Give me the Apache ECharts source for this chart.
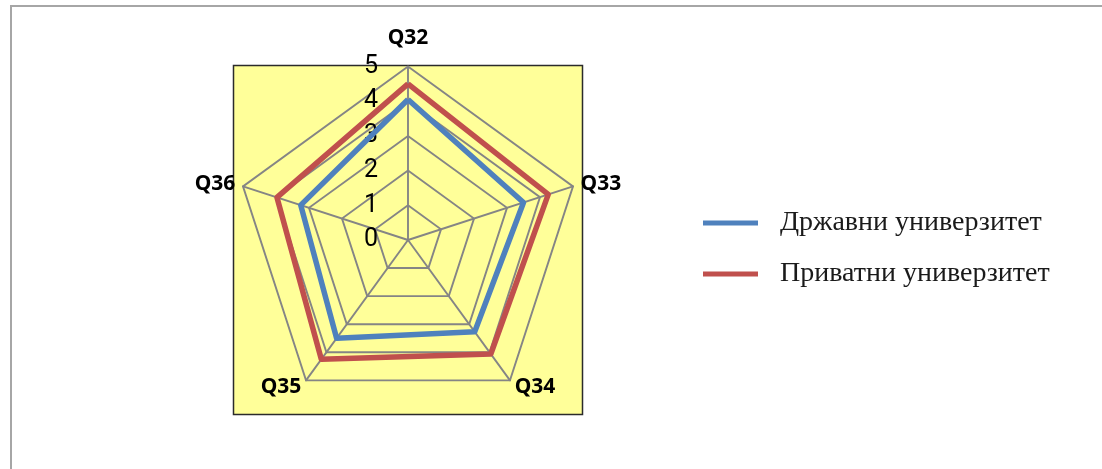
<!DOCTYPE html>
<html>
<head>
<meta charset="utf-8">
<script src="https://cdn.jsdelivr.net/npm/echarts@6/dist/echarts.min.js"></script>
<style>
  html, body { margin: 0; padding: 0; background: #ffffff; }
  #chart { width: 1102px; height: 469px; }
</style>
</head>
<body>
<div id="chart"></div>
<script>
// Survey questions, listed clockwise from the top spoke
const indicators = ['Q32', 'Q33', 'Q34', 'Q35', 'Q36'];
const scaleMin = 0;
const scaleMax = 5;
const seriesNames = ['Државни универзитет', 'Приватни универзитет'];
// Mean scores per question (same order as indicators)
const stateValues = [4.05, 3.5, 3.27, 3.5, 3.25];
const privateValues = [4.5, 4.25, 4.06, 4.25, 3.97];
const seriesColors = ['#4F81BD', '#C0504D'];

// ECharts lays radar spokes out counter-clockwise; keep the first one on top
// and reverse the rest so the questions read clockwise.
const order = [0].concat(indicators.slice(1).map(function (_, i) { return indicators.length - 1 - i; }));
const reorder = function (arr) { return order.map(function (k) { return arr[k]; }); };

const chart = echarts.init(document.getElementById('chart'));

const indicatorOpts = reorder(indicators).map(function (name, i) {
  const opt = { name: name, min: scaleMin, max: scaleMax };
  if (i === 0) {
    // the value scale is printed only along the top spoke
    opt.axisLabel = { show: true };
    opt.nameGap = 18;
  }
  return opt;
});

chart.setOption({
  animation: false,
  backgroundColor: '#ffffff',
  graphic: [
    // page frame
    { type: 'line', z: -5, silent: true,
      shape: { x1: 10, y1: 6, x2: 1102, y2: 6 },
      style: { stroke: '#a6a6a6', lineWidth: 2 } },
    { type: 'line', z: -5, silent: true,
      shape: { x1: 11, y1: 6, x2: 11, y2: 469 },
      style: { stroke: '#a6a6a6', lineWidth: 2 } },
    // plot area fill
    { type: 'rect', z: -5, silent: true,
      shape: { x: 233.5, y: 65.5, width: 349, height: 349 },
      style: { fill: '#FFFF99', stroke: '#2b2b2b', lineWidth: 1.5 } }
  ],
  legend: {
    orient: 'vertical',
    left: 698,
    top: 203,
    itemWidth: 55,
    itemHeight: 5,
    itemGap: 21,
    icon: 'rect',
    data: seriesNames,
    textStyle: {
      fontFamily: '"Liberation Serif", "Times New Roman", serif',
      fontSize: 28,
      lineHeight: 30,
      color: '#1a1a1a',
      padding: [0, 0, 0, 17]
    }
  },
  radar: {
    z: 2,
    center: [408, 240],
    radius: 173.5,
    startAngle: 90,
    splitNumber: 5,
    shape: 'polygon',
    indicator: indicatorOpts,
    nameGap: 8,
    axisName: {
      color: '#000000',
      fontFamily: '"Noto Sans", sans-serif',
      fontWeight: 'bold',
      fontSize: 21
    },
    axisLine: { show: true, lineStyle: { color: '#858585', width: 1.9 } },
    splitLine: { show: true, lineStyle: { color: '#858585', width: 1.9 } },
    splitArea: { show: false },
    axisTick: { show: false },
    axisLabel: {
      show: false,
      color: '#000000',
      fontFamily: 'Roboto, "Noto Sans", sans-serif',
      fontSize: 25,
      margin: 30,
      padding: [5, 0, 0, 0]
    }
  },
  series: [{
    type: 'radar',
    z: 3,
    symbol: 'none',
    data: [
      { name: seriesNames[0], value: reorder(stateValues),
        lineStyle: { color: seriesColors[0], width: 5.5 },
        itemStyle: { color: seriesColors[0] } },
      { name: seriesNames[1], value: reorder(privateValues),
        lineStyle: { color: seriesColors[1], width: 5.5 },
        itemStyle: { color: seriesColors[1] } }
    ]
  }]
});
</script>
</body>
</html>
